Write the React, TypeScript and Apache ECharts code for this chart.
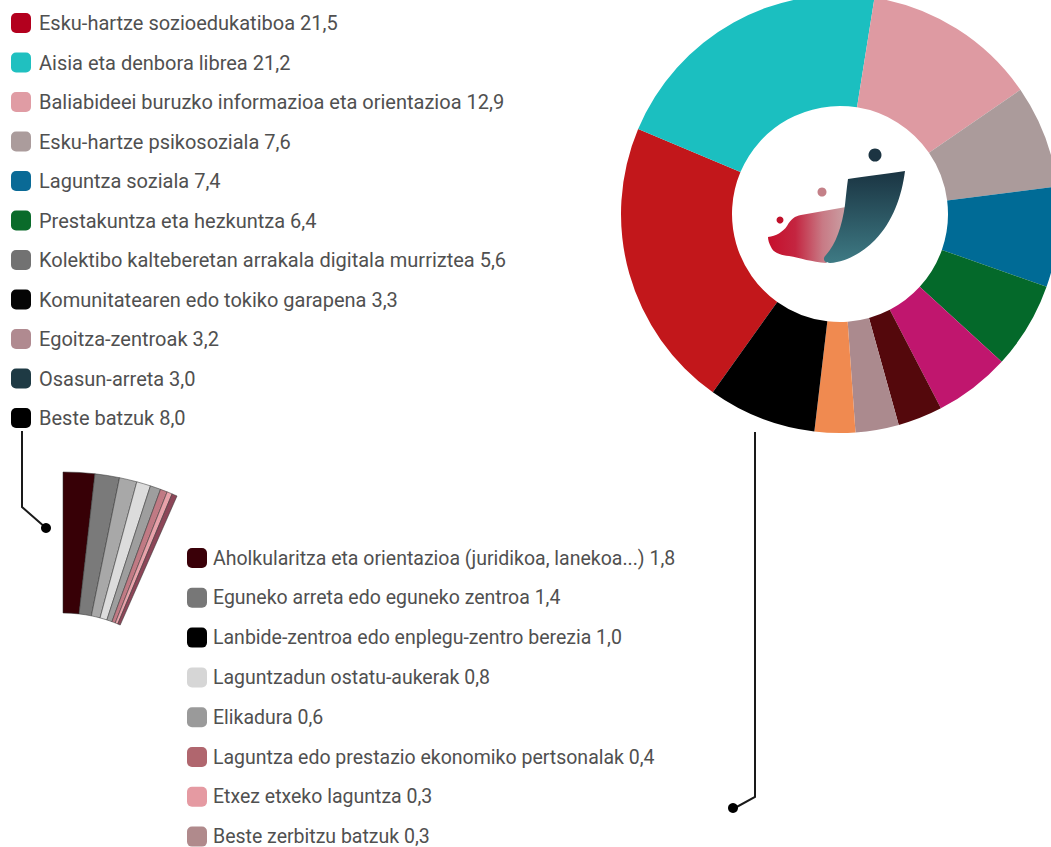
import React, { useEffect, useRef } from "react";
import * as echarts from "echarts";

// ---- Data ----
const mainCategories = [
  "Esku-hartze sozioedukatiboa",
  "Aisia eta denbora librea",
  "Baliabideei buruzko informazioa eta orientazioa",
  "Esku-hartze psikosoziala",
  "Laguntza soziala",
  "Prestakuntza eta hezkuntza",
  "Kolektibo kalteberetan arrakala digitala murriztea",
  "Komunitatearen edo tokiko garapena",
  "Egoitza-zentroak",
  "Osasun-arreta",
  "Beste batzuk",
];
const mainValues = [21.5, 21.2, 12.9, 7.6, 7.4, 6.4, 5.6, 3.3, 3.2, 3.0, 8.0];
const mainSliceColors = [
  "#c2171b", "#1bbfc0", "#de9aa2", "#ab9b9b", "#006b96", "#04692a",
  "#c0166e", "#54080c", "#ab8a8e", "#f08a50", "#000000",
];
const mainLegendColors = [
  "#b3001e", "#20c0c0", "#e09ca4", "#ab9c9c", "#0a6a96", "#0a6b2a",
  "#727272", "#050505", "#b08a90", "#1e3a44", "#000000",
];

const subCategories = [
  "Aholkularitza eta orientazioa (juridikoa, lanekoa...)",
  "Eguneko arreta edo eguneko zentroa",
  "Lanbide-zentroa edo enplegu-zentro berezia",
  "Laguntzadun ostatu-aukerak",
  "Elikadura",
  "Laguntza edo prestazio ekonomiko pertsonalak",
  "Etxez etxeko laguntza",
  "Beste zerbitzu batzuk",
];
const subValues = [1.8, 1.4, 1.0, 0.8, 0.6, 0.4, 0.3, 0.3];
const subSliceColors = [
  "#370006", "#7a7a7a", "#a8a8a8", "#dcdcdc", "#9e9e9e", "#c07a84", "#e8a2aa", "#8c4658",
];
const subLegendColors = [
  "#3a0008", "#777777", "#000000", "#d6d6d6", "#9a9a9a", "#b0666e", "#e59aa2", "#b08a8c",
];

const fmt = (v: number) => v.toFixed(1).replace(".", ",");

const RED_PATH =
  "M768,237 C776,236 783,232 787,226 C791,219 795,216 801,215 L846,207 L843,228 C838,245 832,256 826,263 C812,262 800,258 789,256 C779,255 773,252 771,247 C769,243 768,240 768,237 Z";
const TEAL_PATH =
  "M848,179 C865,176 888,174 905,171 C902,195 893,222 875,240 C862,253 846,262 830,263 C824,263 822,259 826,255 C836,244 842,226 845,205 C846,195 847,186 848,179 Z";

let registered = false;
function registerShapes() {
  if (registered) return;
  registered = true;
  echarts.graphic.registerShape("logoRed", echarts.graphic.extendPath(RED_PATH, {}) as any);
  echarts.graphic.registerShape("logoTeal", echarts.graphic.extendPath(TEAL_PATH, {}) as any);
}

export default function App() {
  const ref = useRef<HTMLDivElement>(null);

  useEffect(() => {
    if (!ref.current) return;
    registerShapes();
    const chart = echarts.init(ref.current, null, { renderer: "svg" });

    const subSum = subValues.reduce((a, b) => a + b, 0);
    const baseText = {
      fontFamily: "Roboto",
      color: "#505050",
    };

    chart.setOption({
      animation: false,
      backgroundColor: "#ffffff",
      legend: [
        {
          orient: "vertical",
          left: 11,
          top: 13,
          height: 440,
          padding: 0,
          itemWidth: 20,
          itemHeight: 20,
          itemGap: 19.5,
          icon: "roundRect",
          selectedMode: false,
          data: mainCategories.map((n, i) => ({
            name: n,
            itemStyle: { color: mainLegendColors[i], borderWidth: 0 },
          })),
          formatter: (n: string) => `${n} ${fmt(mainValues[mainCategories.indexOf(n)])}`,
          textStyle: { ...baseText, fontSize: 20, padding: [0, 0, 0, 3] },
        },
        {
          orient: "vertical",
          left: 187,
          top: 548,
          height: 340,
          padding: 0,
          itemWidth: 20,
          itemHeight: 20,
          itemGap: 19.8,
          icon: "roundRect",
          selectedMode: false,
          data: subCategories.map((n, i) => ({
            name: n,
            itemStyle: { color: subLegendColors[i], borderWidth: 0 },
          })),
          formatter: (n: string) => `${n} ${fmt(subValues[subCategories.indexOf(n)])}`,
          textStyle: { ...baseText, fontSize: 19.5, padding: [0, 0, 0, 1] },
        },
      ],
      series: [
        {
          type: "pie",
          name: "main",
          center: [840, 214],
          radius: [108, 219],
          startAngle: 234.5,
          clockwise: true,
          label: { show: false },
          labelLine: { show: false },
          emphasis: { disabled: true },
          data: mainCategories.map((n, i) => ({
            name: n,
            value: mainValues[i],
            itemStyle: { color: mainSliceColors[i] },
          })),
        },
        {
          type: "pie",
          name: "sub",
          center: [63, 755],
          radius: [142, 283],
          startAngle: 90,
          endAngle: 90 - subSum * 3.6,
          clockwise: true,
          label: { show: false },
          labelLine: { show: false },
          emphasis: { disabled: true },
          itemStyle: { borderColor: "rgba(50,50,50,0.75)", borderWidth: 0.7 },
          data: subCategories.map((n, i) => ({
            name: n,
            value: subValues[i],
            itemStyle: { color: subSliceColors[i] },
          })),
        },
      ],
      graphic: [
        {
          type: "polyline",
          shape: { points: [[22, 431], [22, 507], [46, 528]] },
          style: { stroke: "#1a1a1a", lineWidth: 2, fill: null },
          silent: true,
        },
        {
          type: "circle",
          shape: { cx: 46, cy: 528, r: 5 },
          style: { fill: "#000" },
          silent: true,
        },
        {
          type: "polyline",
          shape: { points: [[755, 432], [755, 797], [733, 809]] },
          style: { stroke: "#1a1a1a", lineWidth: 2, fill: null },
          silent: true,
        },
        {
          type: "circle",
          shape: { cx: 733, cy: 808, r: 5 },
          style: { fill: "#000" },
          silent: true,
        },
        {
          type: "logoRed",
          x: 0,
          y: 0,
          scaleX: 1,
          scaleY: 1,
          silent: true,
          style: {
            fill: new echarts.graphic.LinearGradient(0, 0, 1, 0, [
              { offset: 0, color: "#c60f2b" },
              { offset: 0.35, color: "#c42540" },
              { offset: 0.7, color: "#c87a85" },
              { offset: 1, color: "#caa0a4" },
            ]),
          },
        },
        {
          type: "logoTeal",
          x: 0,
          y: 0,
          scaleX: 1,
          scaleY: 1,
          silent: true,
          style: {
            fill: new echarts.graphic.LinearGradient(0, 0, 0, 1, [
              { offset: 0, color: "#1a3442" },
              { offset: 1, color: "#3e7a84" },
            ]),
          },
        },
        {
          type: "circle",
          shape: { cx: 875, cy: 155, r: 6.5 },
          style: { fill: "#1c3442" },
          silent: true,
        },
        {
          type: "circle",
          shape: { cx: 822, cy: 192, r: 4.5 },
          style: { fill: "#c48088" },
          silent: true,
        },
        {
          type: "circle",
          shape: { cx: 780, cy: 220, r: 3.5 },
          style: { fill: "#c0102a" },
          silent: true,
        },
      ],
    });

    return () => chart.dispose();
  }, []);

  return (
    <div
      ref={ref}
      style={{ position: "fixed", left: 0, top: 0, width: 1051, height: 847 }}
    />
  );
}
